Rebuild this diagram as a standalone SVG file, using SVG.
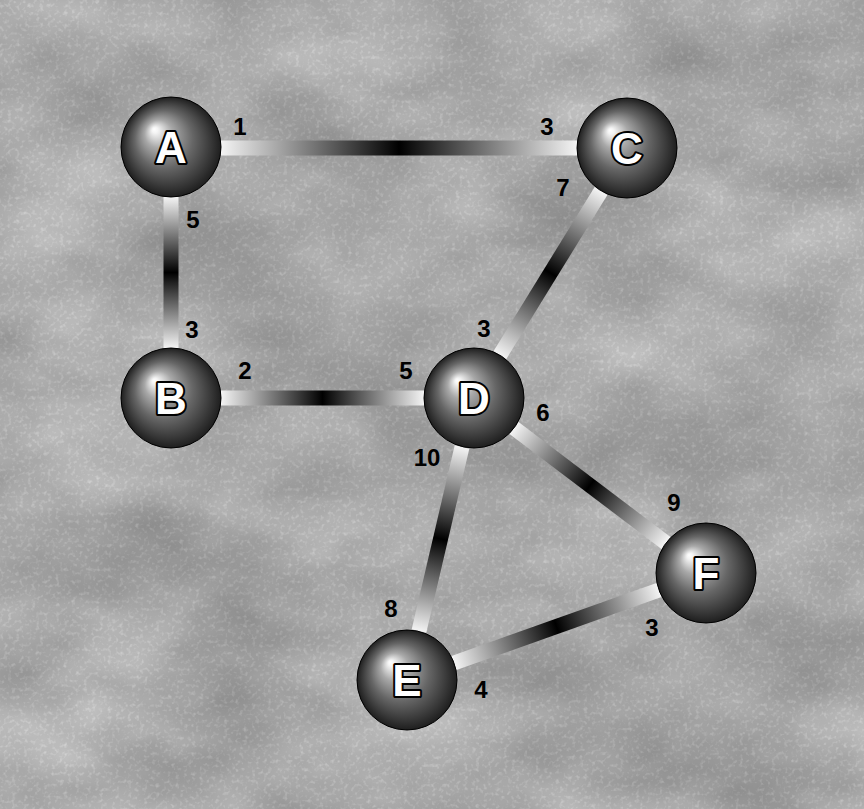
<svg xmlns="http://www.w3.org/2000/svg" width="864" height="809" viewBox="0 0 864 809">
<style>
.lbl{font-family:"Liberation Sans",Arial,sans-serif;font-weight:bold;font-size:24px;fill:#000;text-anchor:middle}
.nl{font-family:"Liberation Sans",Arial,sans-serif;font-weight:bold;font-size:44px;fill:#fff;stroke:#000;stroke-width:4;paint-order:stroke;stroke-linejoin:round;text-anchor:middle}
.sph{fill:url(#sphere);stroke:#000;stroke-width:1}
.edge{fill:none;stroke-width:15}
</style>
<defs>
<filter id="tex" x="0" y="0" width="864" height="809" filterUnits="userSpaceOnUse" color-interpolation-filters="sRGB">
<feTurbulence type="fractalNoise" baseFrequency="0.006 0.01" numOctaves="4" seed="7" result="big"/>
<feColorMatrix in="big" type="matrix" values="0.32 0 0 0 0.49  0.32 0 0 0 0.49  0.32 0 0 0 0.49  0 0 0 0 1" result="bigG"/>
<feTurbulence type="fractalNoise" baseFrequency="0.25" numOctaves="2" seed="2" result="fine"/>
<feColorMatrix in="fine" type="matrix" values="0.22 0 0 0 -0.11  0.22 0 0 0 -0.11  0.22 0 0 0 -0.11  0 0 0 0 1" result="fineG"/>
<feComposite in="bigG" in2="fineG" operator="arithmetic" k1="0" k2="1" k3="1" k4="0"/>
</filter>
<radialGradient id="sphere" cx="0.5" cy="0.5" r="0.5" fx="0.33" fy="0.32">
<stop offset="0" stop-color="#ffffff"/>
<stop offset="0.06" stop-color="#f4f4f4"/>
<stop offset="0.28" stop-color="#a8a8a8"/>
<stop offset="0.58" stop-color="#666666"/>
<stop offset="0.85" stop-color="#383838"/>
<stop offset="1" stop-color="#1e1e1e"/>
</radialGradient>
<linearGradient id="gAC" gradientUnits="userSpaceOnUse" x1="221" y1="148" x2="577" y2="148"><stop offset="0" stop-color="#f4f4f4"/><stop offset="0.5" stop-color="#000"/><stop offset="1" stop-color="#f4f4f4"/></linearGradient>
<linearGradient id="gAB" gradientUnits="userSpaceOnUse" x1="171" y1="197" x2="171" y2="348"><stop offset="0" stop-color="#f4f4f4"/><stop offset="0.5" stop-color="#000"/><stop offset="1" stop-color="#f4f4f4"/></linearGradient>
<linearGradient id="gBD" gradientUnits="userSpaceOnUse" x1="221" y1="398" x2="424" y2="398"><stop offset="0" stop-color="#f4f4f4"/><stop offset="0.5" stop-color="#000"/><stop offset="1" stop-color="#f4f4f4"/></linearGradient>
<linearGradient id="gCD" gradientUnits="userSpaceOnUse" x1="601" y1="191" x2="500" y2="355"><stop offset="0" stop-color="#f4f4f4"/><stop offset="0.5" stop-color="#000"/><stop offset="1" stop-color="#f4f4f4"/></linearGradient>
<linearGradient id="gDF" gradientUnits="userSpaceOnUse" x1="514" y1="428" x2="666" y2="543"><stop offset="0" stop-color="#f4f4f4"/><stop offset="0.5" stop-color="#000"/><stop offset="1" stop-color="#f4f4f4"/></linearGradient>
<linearGradient id="gDE" gradientUnits="userSpaceOnUse" x1="462" y1="447" x2="419" y2="631"><stop offset="0" stop-color="#f4f4f4"/><stop offset="0.5" stop-color="#000"/><stop offset="1" stop-color="#f4f4f4"/></linearGradient>
<linearGradient id="gEF" gradientUnits="userSpaceOnUse" x1="454" y1="663" x2="659" y2="590"><stop offset="0" stop-color="#f4f4f4"/><stop offset="0.5" stop-color="#000"/><stop offset="1" stop-color="#f4f4f4"/></linearGradient>
</defs>
<rect x="0" y="0" width="864" height="809" fill="#ffffff"/>
<rect x="3" y="3" width="858" height="803" fill="#aaa" filter="url(#tex)"/>
<g id="connectors">
<path class="edge" d="M221 148 L577 148" stroke="url(#gAC)"/>
<path class="edge" d="M171 197 L171 348" stroke="url(#gAB)"/>
<path class="edge" d="M221 398 L424 398" stroke="url(#gBD)"/>
<path class="edge" d="M601 191 L500 355" stroke="url(#gCD)"/>
<path class="edge" d="M514 428 L666 543" stroke="url(#gDF)"/>
<path class="edge" d="M462 447 L419 631" stroke="url(#gDE)"/>
<path class="edge" d="M454 663 L659 590" stroke="url(#gEF)"/>
</g>
<g id="labels">
<text class="lbl" x="240" y="135">1</text>
<text class="lbl" x="547" y="135">3</text>
<text class="lbl" x="193" y="228">5</text>
<text class="lbl" x="563" y="196">7</text>
<text class="lbl" x="192" y="338">3</text>
<text class="lbl" x="245" y="379">2</text>
<text class="lbl" x="406" y="379">5</text>
<text class="lbl" x="484" y="337">3</text>
<text class="lbl" x="543" y="421">6</text>
<text class="lbl" x="427" y="466">10</text>
<text class="lbl" x="674" y="511">9</text>
<text class="lbl" x="391" y="617">8</text>
<text class="lbl" x="652" y="636">3</text>
<text class="lbl" x="481" y="698">4</text>
</g>
<g id="A"><circle class="sph" cx="171" cy="147" r="50"/><text class="nl" x="171" y="163">A</text></g>
<g id="B"><circle class="sph" cx="171" cy="398" r="50"/><text class="nl" x="171" y="414">B</text></g>
<g id="C"><circle class="sph" cx="627" cy="148" r="50"/><text class="nl" x="627" y="164">C</text></g>
<g id="D"><circle class="sph" cx="474" cy="398" r="50"/><text class="nl" x="474" y="414">D</text></g>
<g id="E"><circle class="sph" cx="407" cy="680" r="50"/><text class="nl" x="407" y="696">E</text></g>
<g id="F"><circle class="sph" cx="706" cy="573" r="50"/><text class="nl" x="706" y="589">F</text></g>
</svg>
